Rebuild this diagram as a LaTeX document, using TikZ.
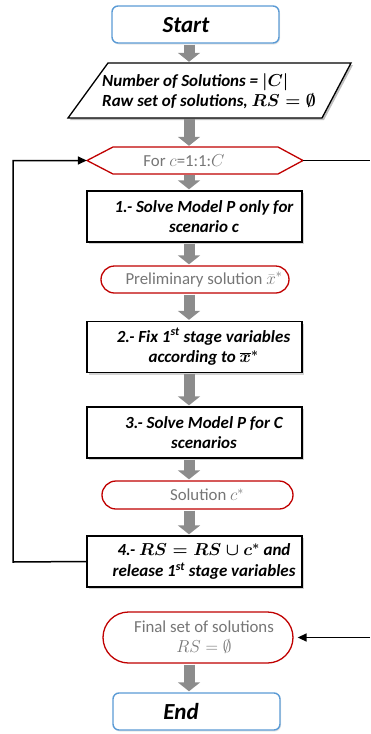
\documentclass[tikz,border=0pt]{standalone}
\usepackage{fontspec}
\setmainfont{Carlito}
\usetikzlibrary{arrows.meta,shadows,shapes.misc}
\definecolor{blueb}{RGB}{91,155,213}
\definecolor{redb}{RGB}{192,0,0}
\definecolor{textgray}{RGB}{118,118,118}
\definecolor{arrgray}{RGB}{140,140,140}
\begin{document}
\begin{tikzpicture}[x=1pt,y=-1pt,
  every node/.style={inner sep=0pt},
  term/.style={draw=blueb, line width=1.4pt, rounded corners=6pt, fill=white,
    minimum width=167pt, minimum height=37pt,
    drop shadow={opacity=0.2,shadow xshift=1pt,shadow yshift=-1.5pt}},
  termtext/.style={font=\fontsize{23}{26}\selectfont\bfseries\itshape},
  stepbox/.style={draw=black, line width=1.3pt, fill=white,
    minimum width=215pt, minimum height=51pt,
    drop shadow={opacity=0.35,shadow xshift=2pt,shadow yshift=-2pt}},
  steptext/.style={align=center, font=\fontsize{17}{20.5}\selectfont\bfseries\itshape\boldmath},
  outcome/.style={rounded rectangle, draw=redb, line width=1.3pt, fill=white},
  outtext/.style={align=center, text=textgray, font=\fontsize{16.8}{20}\selectfont},
  blockarrow/.style={line width=11pt, draw=arrgray,
    -{Triangle[width=22pt,length=9pt]}, shorten <=1pt, shorten >=1pt},
  loopline/.style={draw=black, line width=1.5pt},
  looparrow/.style={loopline, -{Triangle[width=8pt,length=9pt]}}
]
\useasboundingbox (0,0) rectangle (370,734);
\coordinate (ax) at (189,0);

% Start
\node[term] (start) at (195.5,24.5) {};
\node[termtext] (startt) at (186,25) {Start};

% Parallelogram input
\coordinate (p1) at (108,63);
\coordinate (p2) at (351,63);
\coordinate (p3) at (322,118);
\coordinate (p4) at (68,118);
\fill[black, opacity=0.25] ([shift={(2,2)}]p1) -- ([shift={(2,2)}]p2) -- ([shift={(2,2)}]p3) -- ([shift={(2,2)}]p4) -- cycle;
\draw[line width=1.3pt, fill=white] (p1) -- (p2) -- (p3) -- (p4) -- cycle;
\node[minimum width=240pt, minimum height=55pt] (para) at (209.5,90.5) {};
\node[anchor=west, align=left, font=\fontsize{17}{19.5}\selectfont\bfseries\itshape\boldmath] (parat) at (102,91)
  {Number of Solutions = $|C|$\\ Raw set of solutions, $RS = \emptyset$};

% Hexagon loop
\coordinate (h1) at (87,160.5);
\coordinate (h2) at (113,147);
\coordinate (h3) at (278,147);
\coordinate (h4) at (303,160.5);
\coordinate (h5) at (278,174);
\coordinate (h6) at (113,174);
\draw[draw=redb, line width=1.3pt, fill=white] (h1) -- (h2) -- (h3) -- (h4) -- (h5) -- (h6) -- cycle;
\node[minimum width=216pt, minimum height=27pt] (hex) at (195,160.5) {};
\node[outtext] (hext) at (184,160.5) {For $c$=1:1:$C$};

% Step 1
\node[stepbox] (b1) at (194.5,216.5) {};
\node[steptext] (b1t) at (204,216.5) {1.- Solve Model P only for\\ scenario c};

% Preliminary solution
\node[outcome, minimum width=188pt, minimum height=27pt] (pre) at (195,279.5) {};
\node[outtext] (pret) at (204,279.5) {Preliminary solution $\bar{x}^{*}$};

% Step 2
\node[stepbox] (b2) at (194.5,347) {};
\node[steptext] (b2t) at (203.5,347) {2.- Fix 1\textsuperscript{st} stage variables\\ according to $\overline{x}^{*}$};

% Step 3
\node[stepbox] (b3) at (194.5,432.5) {};
\node[steptext] (b3t) at (204,432.5) {3.- Solve Model P for C\\ scenarios};

% Solution c*
\node[outcome, minimum width=191pt, minimum height=28pt] (sol) at (197.5,495) {};
\node[outtext] (solt) at (207,495) {Solution $c^{*}$};

% Step 4
\node[stepbox] (b4) at (194.5,561.5) {};
\node[steptext] (b4t) at (204,561.5) {4.- $RS = RS \cup c^{*}$ and\\ release 1\textsuperscript{st} stage variables};

% Final set
\node[outcome, minimum width=190pt, minimum height=51pt] (fin) at (198,637.5) {};
\node[outtext] (fint) at (204,637.5) {Final set of solutions\\ $RS = \emptyset$};

% End
\node[term] (end) at (196.5,711.5) {};
\node[termtext] (endt) at (181,712) {End};

% Block arrows
\draw[blockarrow] (start.south -| ax) -- (para.north -| ax);
\draw[blockarrow] (para.south -| ax) -- (hex.north -| ax);
\draw[blockarrow] (hex.south -| ax) -- (b1.north -| ax);
\draw[blockarrow] (b1.south -| ax) -- (pre.north -| ax);
\draw[blockarrow] (pre.south -| ax) -- (b2.north -| ax);
\draw[blockarrow] (b2.south -| ax) -- (b3.north -| ax);
\draw[blockarrow] (b3.south -| ax) -- (sol.north -| ax);
\draw[blockarrow] (sol.south -| ax) -- (b4.north -| ax);
\draw[blockarrow] (fin.south -| ax) -- (end.north -| ax);

% Loop connectors
\coordinate (lbot) at (13,562);
\coordinate (rtop) at (370,160.5);
\coordinate (rbot) at (370,637.5);
\draw[looparrow] (b4.west) -- (lbot) |- (hex.west);
\draw[loopline] (hex.east) -- (rtop);
\draw[looparrow, shorten >=4pt] (rbot) -- (fin.east);
\end{tikzpicture}
\end{document}
